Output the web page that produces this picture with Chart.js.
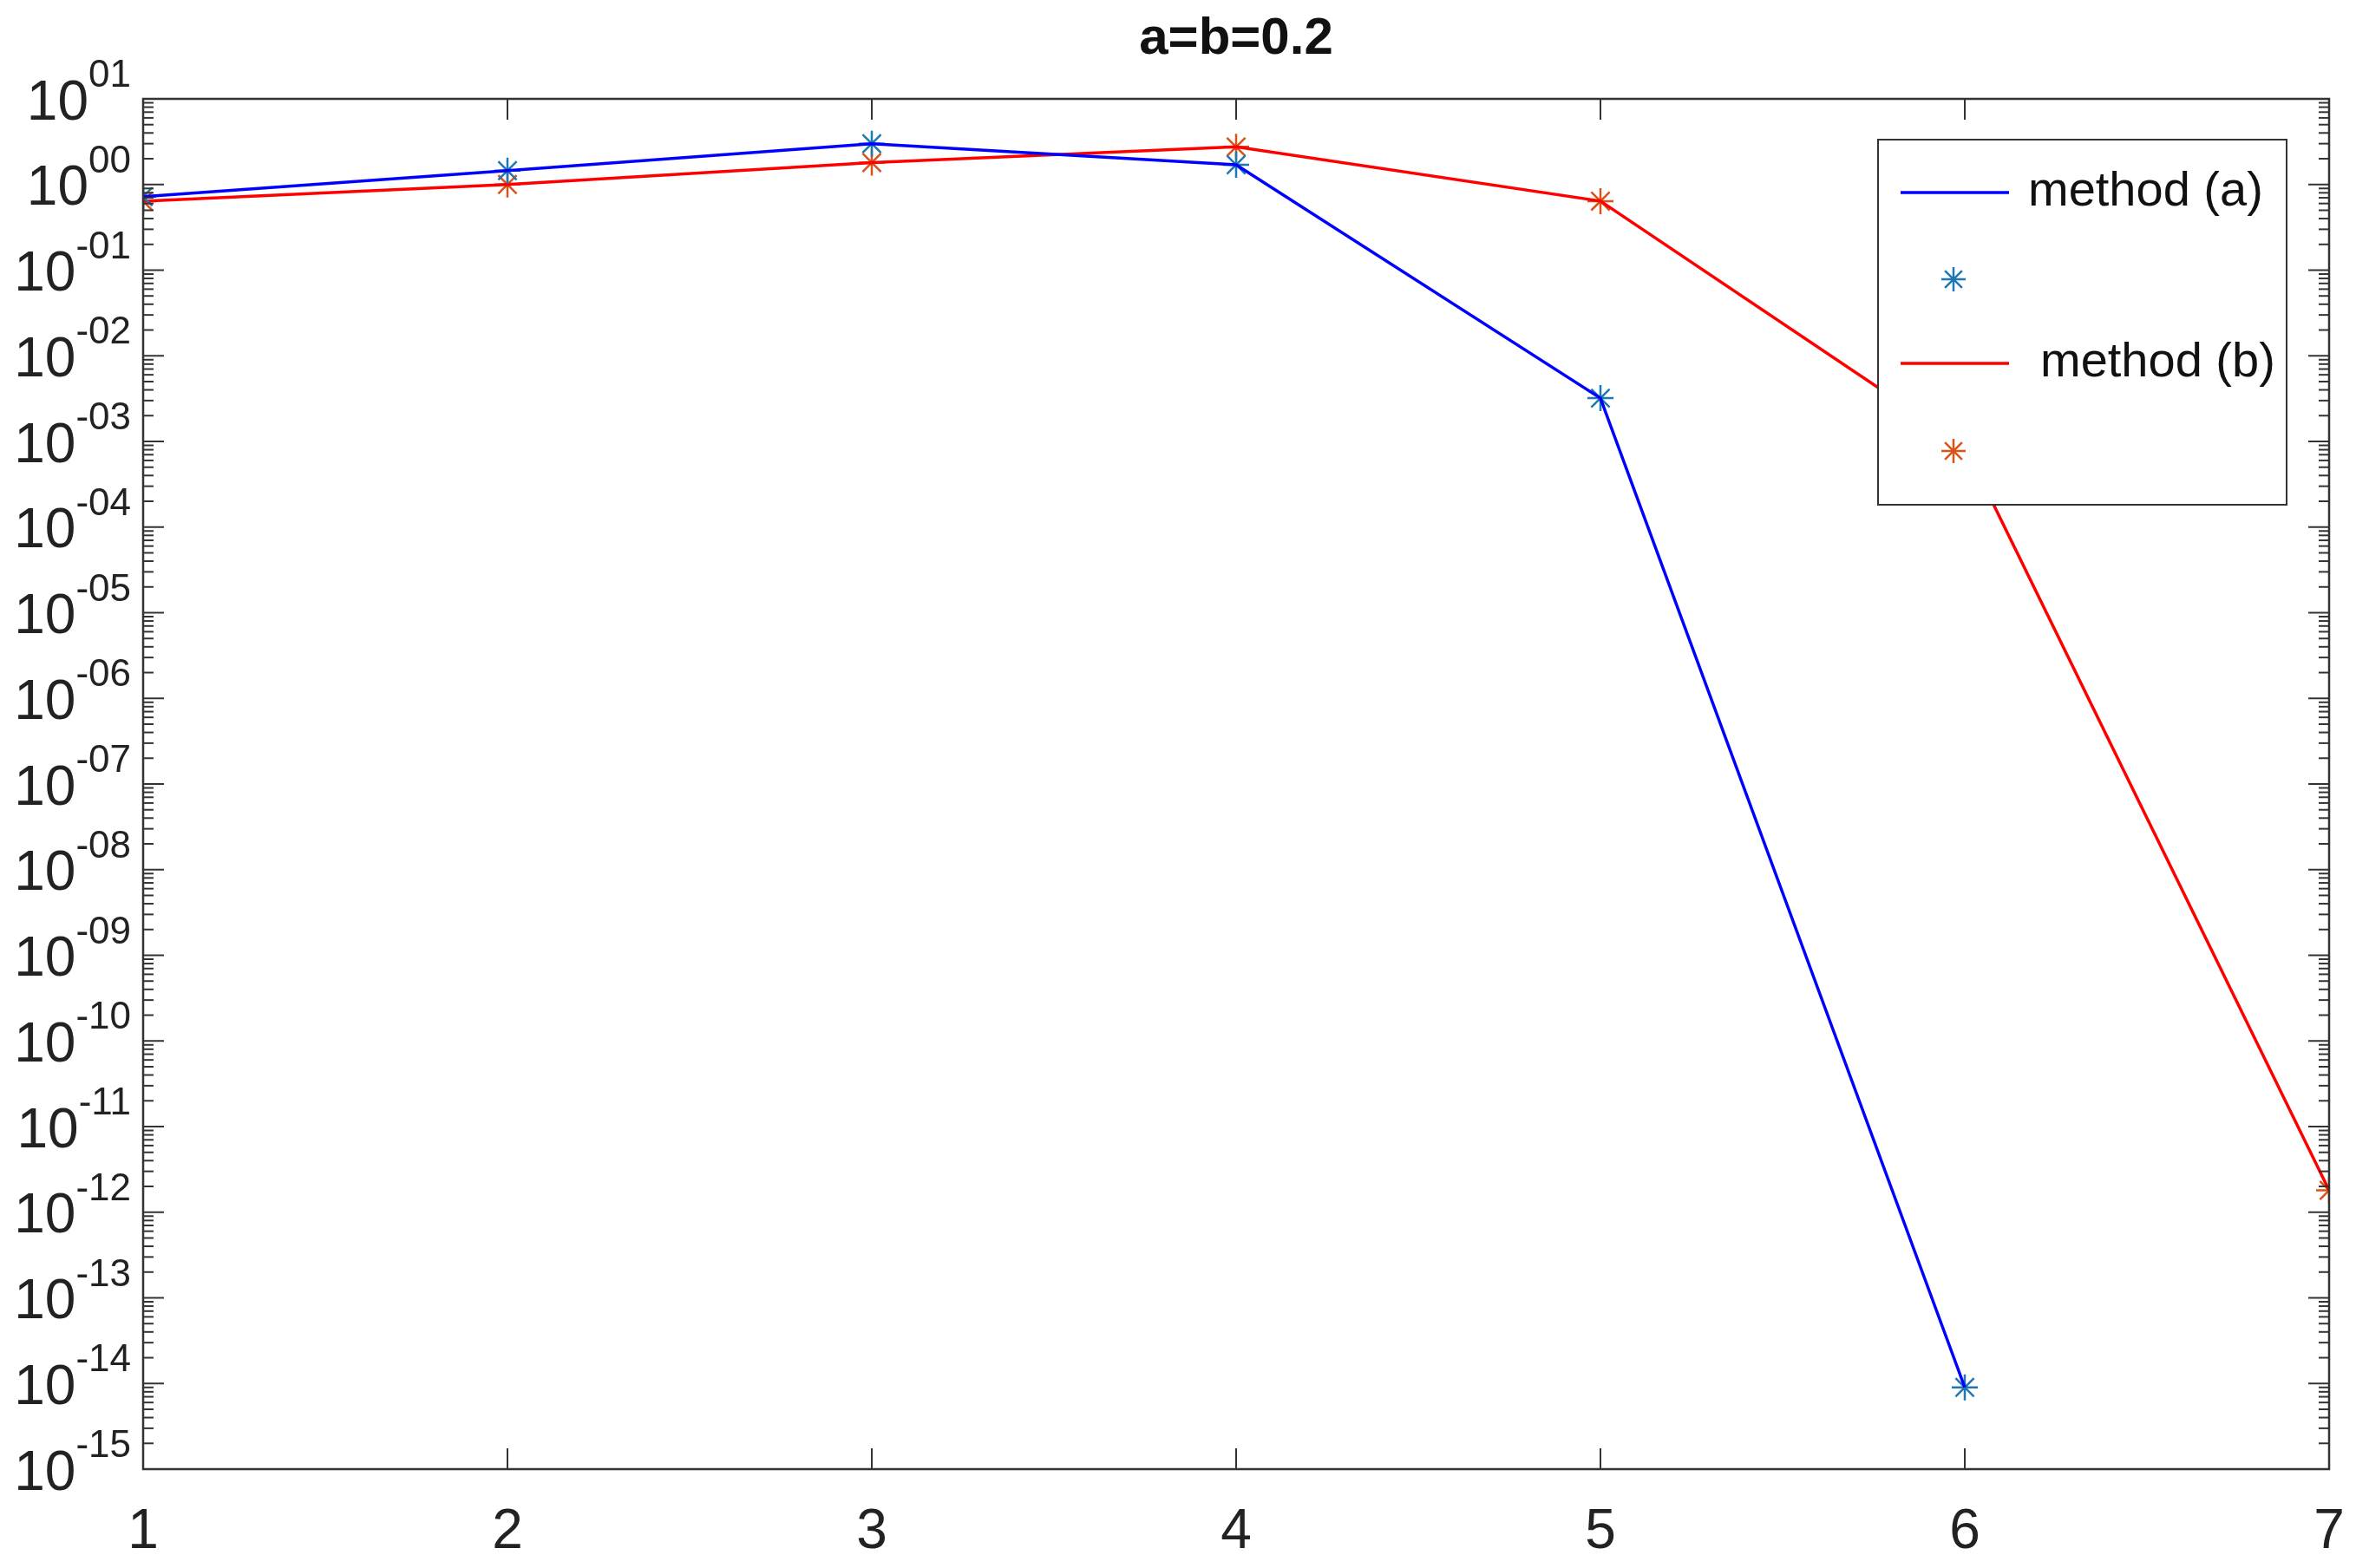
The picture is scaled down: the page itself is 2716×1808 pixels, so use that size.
<!DOCTYPE html>
<html>
<head>
<meta charset="utf-8">
<script src="https://cdn.jsdelivr.net/npm/chart.js@4"></script>
<style>
  html, body { margin: 0; padding: 0; background: #fff; }
  canvas { display: block; }
</style>
</head>
<body>
<canvas id="chart" width="2716" height="1808"></canvas>
<script>
const xValues = [1, 2, 3, 4, 5, 6, 7];
const methodA = [0.72, 1.45, 3.0, 1.7, 3.2e-3, 9e-15, null];
const methodB = [0.64, 1.0, 1.8, 2.75, 0.64, 8.9e-4, 1.8e-12];
const xTicks = [1, 2, 3, 4, 5, 6, 7];
const yExponents = [1, 0, -1, -2, -3, -4, -5, -6, -7, -8, -9, -10, -11, -12, -13, -14, -15];
const titleText = "a=b=0.2";

const FONT = "'Liberation Sans', Arial, sans-serif";
const toPoints = (vals) => xValues.map((x, i) => ({ x: x, y: vals[i] }));

// MATLAB-style axes box, ticks, labels and legend
const matlabAxes = {
  id: "matlabAxes",
  afterDatasetsDraw(chart) {
    const { ctx, chartArea: a, scales } = chart;
    const xs = scales.x, ys = scales.y;
    ctx.save();
    ctx.strokeStyle = "#333";
    ctx.lineWidth = 2.5;
    ctx.strokeRect(a.left, a.top, a.right - a.left, a.bottom - a.top);

    // y ticks (major + minor) on both sides
    ctx.lineWidth = 2;
    yExponents.forEach((e) => {
      const y = ys.getPixelForValue(Math.pow(10, e));
      [[a.left, 1], [a.right, -1]].forEach(([x0, d]) => {
        ctx.beginPath(); ctx.moveTo(x0, y); ctx.lineTo(x0 + d * 24, y); ctx.stroke();
      });
      if (e > -15) {
        for (let m = 2; m <= 9; m++) {
          const ym = ys.getPixelForValue(m * Math.pow(10, e - 1));
          [[a.left, 1], [a.right, -1]].forEach(([x0, d]) => {
            ctx.beginPath(); ctx.moveTo(x0, ym); ctx.lineTo(x0 + d * 12, ym); ctx.stroke();
          });
        }
      }
      // label 10^ee
      const sup = (e < 0 ? "-" : "") + String(Math.abs(e)).padStart(2, "0");
      ctx.fillStyle = "#222";
      ctx.textBaseline = "middle";
      ctx.font = "44px " + FONT;
      ctx.textAlign = "right";
      const supW = ctx.measureText(sup).width;
      ctx.fillText(sup, a.left - 14, y - 26);
      ctx.font = "64px " + FONT;
      ctx.fillText("10", a.left - 14 - supW, y + 6);
    });

    // x ticks top and bottom
    xTicks.forEach((t) => {
      const x = xs.getPixelForValue(t);
      ctx.beginPath(); ctx.moveTo(x, a.bottom); ctx.lineTo(x, a.bottom - 24); ctx.stroke();
      ctx.beginPath(); ctx.moveTo(x, a.top); ctx.lineTo(x, a.top + 24); ctx.stroke();
      ctx.fillStyle = "#222";
      ctx.font = "64px " + FONT;
      ctx.textAlign = "center";
      ctx.textBaseline = "middle";
      ctx.fillText(String(t), x, 1767);
    });

    // title
    ctx.font = "bold 60px " + FONT;
    ctx.textAlign = "center";
    ctx.textBaseline = "middle";
    ctx.fillStyle = "#111";
    ctx.fillText(titleText, (a.left + a.right) / 2, 45);

    // legend
    const lx = 2165, ly = 161, lw = 471, lh = 421;
    ctx.fillStyle = "#fff";
    ctx.fillRect(lx, ly, lw, lh);
    ctx.strokeStyle = "#333";
    ctx.lineWidth = 2;
    ctx.strokeRect(lx, ly, lw, lh);
    const rows = [222, 322, 419, 520];
    chart.data.datasets.forEach((ds, i) => {
      const y = rows[i];
      if (ds.showLine) {
        ctx.strokeStyle = ds.borderColor;
        ctx.lineWidth = 3.5;
        ctx.beginPath(); ctx.moveTo(2191, y); ctx.lineTo(2316, y); ctx.stroke();
      } else {
        ctx.strokeStyle = ds.pointBorderColor;
        ctx.lineWidth = 2.5;
        for (let k = 0; k < 4; k++) {
          const ang = k * Math.PI / 4;
          ctx.beginPath();
          ctx.moveTo(2252 - 14 * Math.cos(ang), y - 14 * Math.sin(ang));
          ctx.lineTo(2252 + 14 * Math.cos(ang), y + 14 * Math.sin(ang));
          ctx.stroke();
        }
      }
      if (ds.label) {
        ctx.fillStyle = "#111";
        ctx.font = "56px " + FONT;
        ctx.textAlign = "left";
        ctx.textBaseline = "middle";
        ctx.fillText(ds.label, i === 0 ? 2338 : 2352, y);
      }
    });
    ctx.restore();
  },
};

new Chart(document.getElementById("chart").getContext("2d"), {
  type: "scatter",
  data: {
    datasets: [
      { label: "method (a)", data: toPoints(methodA), showLine: true, borderColor: "#0000ff", borderWidth: 3.5, pointRadius: 0 },
      { label: "", data: toPoints(methodA), showLine: false, pointStyle: "star", pointRadius: 15, pointBorderWidth: 2.5, pointBorderColor: "#1f77b4", pointBackgroundColor: "#1f77b4" },
      { label: "method (b)", data: toPoints(methodB), showLine: true, borderColor: "#ff0000", borderWidth: 3.5, pointRadius: 0 },
      { label: "", data: toPoints(methodB), showLine: false, pointStyle: "star", pointRadius: 15, pointBorderWidth: 2.5, pointBorderColor: "#d95319", pointBackgroundColor: "#d95319" },
    ],
  },
  options: {
    responsive: false,
    animation: false,
    devicePixelRatio: 1,
    layout: { padding: { left: 165, top: 114, right: 31, bottom: 114 } },
    plugins: { legend: { display: false }, tooltip: { enabled: false }, title: { display: false } },
    scales: {
      x: { type: "linear", min: 1, max: 7, display: false },
      y: { type: "logarithmic", min: 1e-15, max: 10, display: false },
    },
  },
  plugins: [matlabAxes],
});
</script>
</body>
</html>
